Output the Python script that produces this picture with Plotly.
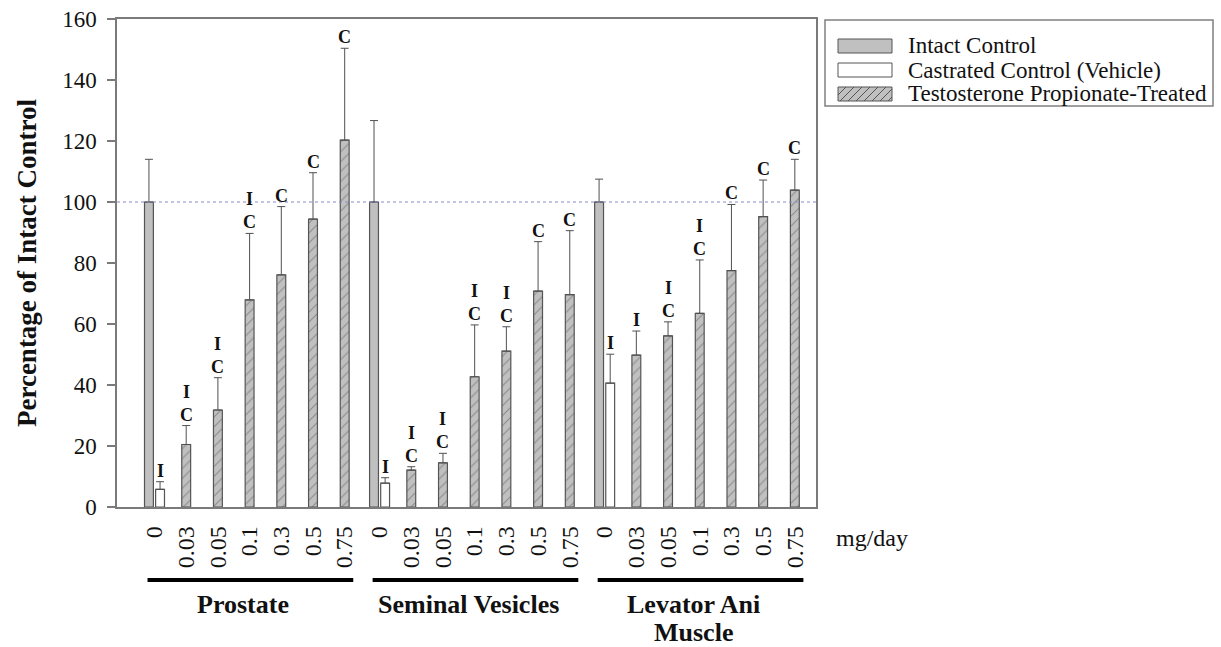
import plotly.graph_objects as go

# ---------------- data ----------------
doses = ["0", "0.03", "0.05", "0.1", "0.3", "0.5", "0.75"]
tissues = ["Prostate", "Seminal Vesicles", "Levator Ani<br>Muscle"]

intact_mean = [100.0, 100.0, 100.0]
intact_sem = [14.0, 26.7, 7.5]

castrated_mean = [5.8, 7.8, 40.6]
castrated_sem = [2.5, 1.8, 9.5]
castrated_sig = ["I", "I", "I"]

tp_prostate_mean = [20.5, 31.8, 67.9, 76.1, 94.4, 120.3]
tp_prostate_sem = [6.2, 10.6, 21.8, 22.4, 15.2, 30.1]
tp_prostate_sig = ["I<br>C", "I<br>C", "I<br>C", "C", "C", "C"]

tp_seminal_mean = [12.1, 14.5, 42.7, 51.1, 70.8, 69.6]
tp_seminal_sem = [1.1, 3.1, 17.0, 8.0, 16.2, 21.0]
tp_seminal_sig = ["I<br>C", "I<br>C", "I<br>C", "I<br>C", "C", "C"]

tp_levator_mean = [49.8, 56.1, 63.5, 77.5, 95.2, 103.9]
tp_levator_sem = [7.9, 4.6, 17.5, 21.7, 12.0, 10.1]
tp_levator_sig = ["I", "I<br>C", "I<br>C", "C", "C", "C"]

legend_names = ["Intact Control", "Castrated Control (Vehicle)",
                "Testosterone Propionate-Treated"]
unit_label = "mg/day"
y_title = "Percentage of Intact Control"
reference_level = 100

# ---------------- layout helpers ----------------
GROUP_GAP = 0.1          # extra spacing between tissue groups (category units)
PAIR_OFF = 0.175         # offset of intact / castrated bars in the "0" category
BAR_W = 0.28

W, H = 1221, 647
L, R, T, B = 117, 405, 19, 140
PW, PH = W - L - R, H - T - B

def pos(g, d):
    return g * (len(doses) + GROUP_GAP) + d

def px_x(x):
    return (x - L) / PW

def px_y(y):
    return (T + PH - y) / PH

FONT = "Liberation Serif"
GREY = "#c0c0c0"
EDGE = "#555555"
TXT = "#111111"

tp_means = [tp_prostate_mean, tp_seminal_mean, tp_levator_mean]
tp_sems = [tp_prostate_sem, tp_seminal_sem, tp_levator_sem]
tp_sigs = [tp_prostate_sig, tp_seminal_sig, tp_levator_sig]

fig = go.Figure()

err_style = dict(type="data", symmetric=False, color="#505050",
                 thickness=1, width=4)

# intact control
x_int = [pos(g, 0) - PAIR_OFF for g in range(3)]
fig.add_trace(go.Bar(
    x=x_int, y=intact_mean, width=BAR_W, name=legend_names[0],
    marker=dict(color=GREY, line=dict(color=EDGE, width=1.2)),
    error_y=dict(array=intact_sem, arrayminus=[0] * 3, **err_style),
    showlegend=False))

# castrated control
x_cas = [pos(g, 0) + PAIR_OFF for g in range(3)]
fig.add_trace(go.Bar(
    x=x_cas, y=castrated_mean, width=BAR_W, name=legend_names[1],
    marker=dict(color="white", line=dict(color=EDGE, width=1.2)),
    error_y=dict(array=castrated_sem, arrayminus=[0] * 3, **err_style),
    showlegend=False))

# testosterone propionate
x_tp, y_tp, e_tp, s_tp = [], [], [], []
for g in range(3):
    for d in range(1, len(doses)):
        x_tp.append(pos(g, d))
        y_tp.append(tp_means[g][d - 1])
        e_tp.append(tp_sems[g][d - 1])
        s_tp.append(tp_sigs[g][d - 1])
fig.add_trace(go.Bar(
    x=x_tp, y=y_tp, width=BAR_W, name=legend_names[2],
    marker=dict(color=GREY, line=dict(color=EDGE, width=1.2),
                pattern=dict(shape="/", fgcolor="#555555", size=7,
                             solidity=0.15, fillmode="overlay")),
    error_y=dict(array=e_tp, arrayminus=[0] * len(e_tp), **err_style),
    showlegend=False))

annotations = []
sig_font = dict(family=FONT, size=18, color=TXT)
def sig(x, top, txt):
    annotations.append(dict(x=x, y=top, xref="x", yref="y", text="<b>%s</b>" % txt,
                            showarrow=False, yanchor="bottom", yshift=-1,
                            font=sig_font))

for g in range(3):
    sig(x_cas[g], castrated_mean[g] + castrated_sem[g], castrated_sig[g])
for x, m, e, s in zip(x_tp, y_tp, e_tp, s_tp):
    sig(x, m + e, s)

# tick positions / labels
tickvals, ticktext = [], []
for g in range(3):
    for d, lab in enumerate(doses):
        tickvals.append(pos(g, d))
        ticktext.append(lab)

shapes = []
# reference dotted line
shapes.append(dict(type="line", xref="paper", yref="y", x0=0, x1=1,
                   y0=reference_level, y1=reference_level,
                   line=dict(color="#8a8ad0", width=1, dash="dot"), layer="above"))

# group underline and labels
for g, name in enumerate(tissues):
    shapes.append(dict(type="line", xref="x", yref="paper",
                       x0=pos(g, 0) - 0.22, x1=pos(g, len(doses) - 1) + 0.27,
                       y0=px_y(580), y1=px_y(580),
                       line=dict(color="black", width=4)))
    lines = name.split("<br>")
    cx = pos(g, 3) - 0.2
    for k, ln in enumerate(lines):
        annotations.append(dict(x=cx, y=px_y(604 + 28 * k), xref="x", yref="paper",
                                text="<b>%s</b>" % ln, showarrow=False,
                                yanchor="middle", xanchor="center",
                                font=dict(family=FONT, size=26, color=TXT)))

annotations.append(dict(x=px_x(834), y=px_y(538), xref="paper", yref="paper",
                        text=unit_label, showarrow=False, xanchor="left",
                        yanchor="middle", font=dict(family=FONT, size=24, color=TXT)))

# custom legend
shapes.append(dict(type="rect", xref="paper", yref="paper",
                   x0=px_x(825), x1=px_x(1213), y0=px_y(20), y1=px_y(106),
                   line=dict(color="#808080", width=1.5), fillcolor="white"))
rows = [46, 70, 94]
sw_x0, sw_x1 = 838, 892
fills = [GREY, "white", GREY]
for i, (yc, nm, fc) in enumerate(zip(rows, legend_names, fills)):
    shapes.append(dict(type="rect", xref="paper", yref="paper",
                       x0=px_x(sw_x0), x1=px_x(sw_x1),
                       y0=px_y(yc + 7), y1=px_y(yc - 7),
                       line=dict(color=EDGE, width=1), fillcolor=fc))
    if i == 2:
        for hx in range(sw_x0 - 6, sw_x1, 8):
            xa, xb = max(hx, sw_x0), min(hx + 14, sw_x1)
            ya = yc + 7 - (xa - hx)
            yb = yc + 7 - (xb - hx)
            if xb > xa:
                shapes.append(dict(type="line", xref="paper", yref="paper",
                                   x0=px_x(xa), x1=px_x(xb),
                                   y0=px_y(ya), y1=px_y(yb),
                                   line=dict(color="#555555", width=1)))
    annotations.append(dict(x=px_x(906), y=px_y(yc), xref="paper", yref="paper",
                            text=nm, showarrow=False, xanchor="left", yanchor="middle",
                            font=dict(family=FONT, size=23, color=TXT)))

x_lo = (L - 154.5) / 31.7
x_hi = (L + PW - 154.5) / 31.7

fig.update_layout(
    width=W, height=H,
    margin=dict(l=L, r=R, t=T, b=B, autoexpand=False),
    paper_bgcolor="white", plot_bgcolor="white",
    barmode="overlay",
    font=dict(family=FONT, size=23, color=TXT),
    xaxis=dict(range=[x_lo, x_hi], tickmode="array", tickvals=tickvals,
               ticktext=ticktext, tickangle=-90, ticks="", showgrid=False,
               zeroline=False, showline=True, mirror=True, linecolor="#7a7a7a",
               linewidth=1.5, ticklabelstandoff=8,
               tickfont=dict(family=FONT, size=24, color=TXT)),
    yaxis=dict(range=[0, 160], dtick=20, ticks="outside", ticklen=8,
               tickcolor="#7a7a7a", tickwidth=1.5, showgrid=False, zeroline=False,
               showline=True, mirror=True, linecolor="#7a7a7a", linewidth=1.5,
               ticklabelstandoff=6,
               tickfont=dict(family=FONT, size=23, color=TXT),
               title=dict(text="<b>%s</b>" % y_title, standoff=18,
                          font=dict(family=FONT, size=27, color=TXT))),
    shapes=shapes, annotations=annotations,
)

fig.write_html("out.html")
